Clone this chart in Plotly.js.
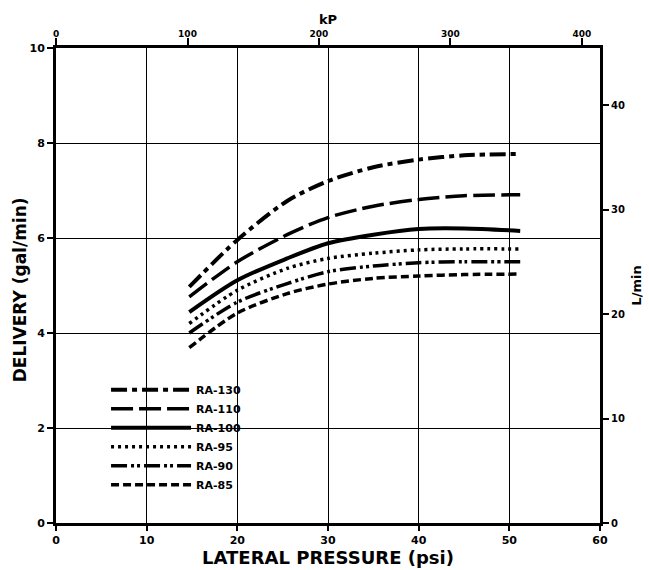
<!DOCTYPE html>
<html>
<head>
<meta charset="utf-8">
<script src="https://cdn.plot.ly/plotly-3.0.1.min.js"></script>
<style>
html,body{margin:0;padding:0;background:#fff;}
#chart{width:649px;height:570px;}
</style>
</head>
<body>
<div id="chart"></div>
<script>
// Lateral pressure (psi) sample points
var pressure = [14.7, 20, 25.5, 30, 35, 40, 45, 51.2];
// Delivery (gal/min) per model
var ra130 = [4.97, 5.96, 6.78, 7.20, 7.49, 7.65, 7.74, 7.77];
var ra110 = [4.76, 5.50, 6.07, 6.43, 6.67, 6.81, 6.89, 6.91];
var ra100 = [4.44, 5.11, 5.57, 5.89, 6.07, 6.19, 6.20, 6.15];
var ra95  = [4.20, 4.90, 5.36, 5.57, 5.68, 5.75, 5.77, 5.77];
var ra90  = [4.00, 4.65, 5.04, 5.29, 5.41, 5.48, 5.50, 5.50];
var ra85  = [3.69, 4.42, 4.83, 5.03, 5.15, 5.20, 5.23, 5.24];
var seriesNames = ['RA-130', 'RA-110', 'RA-100', 'RA-95', 'RA-90', 'RA-85'];

var psiToKPa = 6.895;
var galToL = 4.546;

var FONT = '"DejaVu Sans", "Liberation Sans", Arial, sans-serif';
var series = [ra130, ra110, ra100, ra95, ra90, ra85];
var dashes = ['16px,5px,5px,5px', '22px,6px', 'solid', '3px,4px', '16px,4px,3px,3px,3px,4px', '8px,4px'];
var widths = [4, 3.5, 4, 3.5, 3.5, 3.5];

var traces = series.map(function (vals, i) {
  return {
    x: pressure, y: vals, name: seriesNames[i],
    type: 'scatter', mode: 'lines',
    line: {color: '#000', width: widths[i], dash: dashes[i], shape: 'spline', smoothing: 0.8},
    xaxis: 'x', yaxis: 'y'
  };
});

var layout = {
  width: 649, height: 570,
  margin: {l: 56, r: 49, t: 48, b: 47},
  paper_bgcolor: '#fff', plot_bgcolor: '#fff',
  font: {family: FONT, color: '#000', size: 11},
  showlegend: true,
  legend: {
    x: 0.092, y: 0.05, xanchor: 'left', yanchor: 'bottom',
    bgcolor: 'rgba(255,255,255,0)', borderwidth: 0,
    font: {family: FONT, size: 11, color: '#000', weight: 'bold'},
    tracegroupgap: 0, itemwidth: 80
  },
  xaxis: {
    range: [0, 60], dtick: 10, tick0: 0,
    showgrid: true, gridcolor: '#000', gridwidth: 1,
    showline: true, linecolor: '#000', linewidth: 3,
    ticks: 'outside', ticklen: 5, tickwidth: 2, tickcolor: '#000',
    zeroline: false,
    tickfont: {family: FONT, size: 11, color: '#000', weight: 'bold'},
    title: {text: 'LATERAL PRESSURE (psi)', font: {family: FONT, size: 18, color: '#000', weight: 'bold'}, standoff: 1}
  },
  xaxis2: {
    overlaying: 'x', side: 'top', anchor: 'y',
    range: [0, 60 * psiToKPa], dtick: 100, tick0: 0,
    showgrid: false, showline: true, linecolor: '#000', linewidth: 3,
    ticks: 'outside', ticklen: 7, tickwidth: 2, tickcolor: '#000',
    zeroline: false, ticklabelstandoff: -3,
    tickfont: {family: FONT, size: 9, color: '#000', weight: 'bold'},
    title: {text: 'kP', font: {family: FONT, size: 13, color: '#000', weight: 'bold'}, standoff: 2}
  },
  yaxis: {
    range: [0, 10], dtick: 2, tick0: 0,
    showgrid: true, gridcolor: '#000', gridwidth: 1,
    showline: true, linecolor: '#000', linewidth: 3,
    ticks: 'outside', ticklen: 6, tickwidth: 2, tickcolor: '#000',
    zeroline: false,
    tickfont: {family: FONT, size: 11, color: '#000', weight: 'bold'},
    title: {text: ''}
  },
  yaxis2: {
    overlaying: 'y', side: 'right', anchor: 'x',
    range: [0, 10 * galToL], dtick: 10, tick0: 0,
    showgrid: false, showline: true, linecolor: '#000', linewidth: 3,
    ticks: 'outside', ticklen: 6, tickwidth: 2, tickcolor: '#000',
    zeroline: false,
    tickfont: {family: FONT, size: 10, color: '#000', weight: 'bold'},
    title: {text: 'L/min', font: {family: FONT, size: 13, color: '#000', weight: 'bold'}, standoff: 8}
  },
  annotations: [{
    text: 'DELIVERY (gal/min)', xref: 'paper', yref: 'paper',
    x: -0.066, y: 0.49, xanchor: 'center', yanchor: 'middle',
    textangle: -90, showarrow: false,
    font: {family: FONT, size: 17, color: '#000', weight: 'bold'}
  }]
};

// invisible helper traces so secondary axes are drawn
traces.push({x: [0], y: [0], xaxis: 'x2', yaxis: 'y', mode: 'markers', marker: {opacity: 0}, showlegend: false, hoverinfo: 'skip'});
traces.push({x: [0], y: [0], xaxis: 'x', yaxis: 'y2', mode: 'markers', marker: {opacity: 0}, showlegend: false, hoverinfo: 'skip'});

Plotly.newPlot('chart', traces, layout, {displayModeBar: false, staticPlot: true});
</script>
</body>
</html>
